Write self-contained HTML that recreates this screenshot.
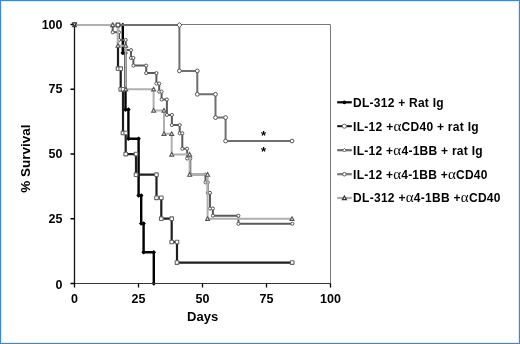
<!DOCTYPE html>
<html><head><meta charset="utf-8"><style>
html,body{margin:0;padding:0;background:#fff;width:520px;height:344px;overflow:hidden}
svg{display:block}
</style></head><body>
<svg width="520" height="344" viewBox="0 0 520 344"><defs><filter id="g" filterUnits="userSpaceOnUse" x="0" y="0" width="520" height="344"><feColorMatrix type="saturate" values="0"/></filter></defs><rect x="0" y="0" width="520" height="344" fill="#fff"/><g filter="url(#g)"><path d="M74.5 24.5H330.5V283.5" fill="none" stroke="#7a7a7a" stroke-width="1"/><polyline points="122.8,25 122.8,53 125.5,53 125.5,109.6 128.4,109.6 128.4,138.8 138.6,138.8 138.6,195.5 141.2,195.5 141.2,223.5 143.6,223.5 143.6,252.2 153.8,252.2 153.8,283.5" fill="none" stroke="#000" stroke-width="2.4" stroke-linejoin="miter"/><path d="M122.8 22.7L125.1 25L122.8 27.3L120.5 25Z" fill="#000"/><path d="M122.8 50.7L125.1 53L122.8 55.3L120.5 53Z" fill="#000"/><path d="M125.5 50.7L127.8 53L125.5 55.3L123.2 53Z" fill="#000"/><path d="M125.5 107.3L127.8 109.6L125.5 111.9L123.2 109.6Z" fill="#000"/><path d="M128.4 107.3L130.7 109.6L128.4 111.9L126.1 109.6Z" fill="#000"/><path d="M128.4 136.5L130.7 138.8L128.4 141.1L126.1 138.8Z" fill="#000"/><path d="M138.6 136.5L140.9 138.8L138.6 141.1L136.3 138.8Z" fill="#000"/><path d="M138.6 193.2L140.9 195.5L138.6 197.8L136.3 195.5Z" fill="#000"/><path d="M141.2 193.2L143.5 195.5L141.2 197.8L138.9 195.5Z" fill="#000"/><path d="M141.2 221.2L143.5 223.5L141.2 225.8L138.9 223.5Z" fill="#000"/><path d="M143.6 221.2L145.9 223.5L143.6 225.8L141.3 223.5Z" fill="#000"/><path d="M143.6 249.9L145.9 252.2L143.6 254.5L141.3 252.2Z" fill="#000"/><path d="M153.8 249.9L156.1 252.2L153.8 254.5L151.5 252.2Z" fill="#000"/><path d="M153.8 281.2L156.1 283.5L153.8 285.8L151.5 283.5Z" fill="#000"/><polyline points="118,25 118,68.7 120.7,68.7 120.7,89.3 123,89.3 123,133 125.7,133 125.7,154.1 136,154.1 136,174.7 156.5,174.7 156.5,197.8 161.3,197.8 161.3,218.7 171.7,218.7 171.7,242 177,242 177,262.6 292.2,262.6" fill="none" stroke="#1e1e1e" stroke-width="2.2"/><rect x="116.2" y="66.9" width="3.6" height="3.6" rx="0.4" fill="#fff" stroke="#666" stroke-width="1.1"/><rect x="118.9" y="66.9" width="3.6" height="3.6" rx="0.4" fill="#fff" stroke="#666" stroke-width="1.1"/><rect x="118.9" y="87.5" width="3.6" height="3.6" rx="0.4" fill="#fff" stroke="#666" stroke-width="1.1"/><rect x="121.2" y="87.5" width="3.6" height="3.6" rx="0.4" fill="#fff" stroke="#666" stroke-width="1.1"/><rect x="121.2" y="131.2" width="3.6" height="3.6" rx="0.4" fill="#fff" stroke="#666" stroke-width="1.1"/><rect x="123.9" y="131.2" width="3.6" height="3.6" rx="0.4" fill="#fff" stroke="#666" stroke-width="1.1"/><rect x="123.9" y="152.3" width="3.6" height="3.6" rx="0.4" fill="#fff" stroke="#666" stroke-width="1.1"/><rect x="134.2" y="152.3" width="3.6" height="3.6" rx="0.4" fill="#fff" stroke="#666" stroke-width="1.1"/><rect x="134.2" y="172.9" width="3.6" height="3.6" rx="0.4" fill="#fff" stroke="#666" stroke-width="1.1"/><rect x="154.7" y="172.9" width="3.6" height="3.6" rx="0.4" fill="#fff" stroke="#666" stroke-width="1.1"/><rect x="154.7" y="196.0" width="3.6" height="3.6" rx="0.4" fill="#fff" stroke="#666" stroke-width="1.1"/><rect x="159.5" y="196.0" width="3.6" height="3.6" rx="0.4" fill="#fff" stroke="#666" stroke-width="1.1"/><rect x="159.5" y="216.9" width="3.6" height="3.6" rx="0.4" fill="#fff" stroke="#666" stroke-width="1.1"/><rect x="169.9" y="216.9" width="3.6" height="3.6" rx="0.4" fill="#fff" stroke="#666" stroke-width="1.1"/><rect x="169.9" y="240.2" width="3.6" height="3.6" rx="0.4" fill="#fff" stroke="#666" stroke-width="1.1"/><rect x="175.2" y="240.2" width="3.6" height="3.6" rx="0.4" fill="#fff" stroke="#666" stroke-width="1.1"/><rect x="175.2" y="260.8" width="3.6" height="3.6" rx="0.4" fill="#fff" stroke="#666" stroke-width="1.1"/><rect x="290.4" y="260.8" width="3.6" height="3.6" rx="0.4" fill="#fff" stroke="#666" stroke-width="1.1"/><polyline points="118,25 179.4,25 179.4,70.9 197.3,70.9 197.3,94.3 215.5,94.3 215.5,117.6 225.6,117.6 225.6,141 292,141" fill="none" stroke="#6f6f6f" stroke-width="2"/><path d="M179.4 22.5L181.9 25L179.4 27.5L176.9 25Z" fill="#fff" stroke="#555" stroke-width="1"/><circle cx="179.4" cy="70.9" r="1.9" fill="#fff" stroke="#555" stroke-width="1"/><circle cx="197.3" cy="70.9" r="1.9" fill="#fff" stroke="#555" stroke-width="1"/><circle cx="197.3" cy="94.3" r="1.9" fill="#fff" stroke="#555" stroke-width="1"/><circle cx="215.5" cy="94.3" r="1.9" fill="#fff" stroke="#555" stroke-width="1"/><circle cx="215.5" cy="117.6" r="1.9" fill="#fff" stroke="#555" stroke-width="1"/><circle cx="225.6" cy="117.6" r="1.9" fill="#fff" stroke="#555" stroke-width="1"/><circle cx="225.6" cy="141" r="1.9" fill="#fff" stroke="#555" stroke-width="1"/><circle cx="292" cy="141" r="1.9" fill="#fff" stroke="#555" stroke-width="1"/><polyline points="112.7,25 112.7,32.3 119,32.3 119,39.9 125.7,39.9 125.7,50.1 131,50.1 131,57.9 133.4,57.9 133.4,65.6 146.2,65.6 146.2,73.1 156.4,73.1 156.4,83.6 159.2,83.6 159.2,91.6 161.6,91.6 161.6,99.5 166.9,99.5 166.9,114.9 171.9,114.9 171.9,125.1 179.7,125.1 179.7,133.3 182.3,133.3 182.3,148.7 187.1,148.7 187.1,158.5 190.3,158.5 190.3,174.6 205.5,174.6 205.5,182.4 207.8,182.4 207.8,192.9 210,192.9 210,208.5 212.9,208.5 212.9,215.7 238.4,215.7 238.4,223.8 292.4,223.8" fill="none" stroke="#5a5a5a" stroke-width="2"/><circle cx="112.7" cy="25" r="1.55" fill="#fff" stroke="#555" stroke-width="1"/><circle cx="112.7" cy="32.3" r="1.55" fill="#fff" stroke="#555" stroke-width="1"/><circle cx="119" cy="32.3" r="1.55" fill="#fff" stroke="#555" stroke-width="1"/><circle cx="119" cy="39.9" r="1.55" fill="#fff" stroke="#555" stroke-width="1"/><circle cx="125.7" cy="39.9" r="1.55" fill="#fff" stroke="#555" stroke-width="1"/><circle cx="125.7" cy="50.1" r="1.55" fill="#fff" stroke="#555" stroke-width="1"/><circle cx="131" cy="50.1" r="1.55" fill="#fff" stroke="#555" stroke-width="1"/><circle cx="131" cy="57.9" r="1.55" fill="#fff" stroke="#555" stroke-width="1"/><circle cx="133.4" cy="57.9" r="1.55" fill="#fff" stroke="#555" stroke-width="1"/><circle cx="133.4" cy="65.6" r="1.55" fill="#fff" stroke="#555" stroke-width="1"/><circle cx="146.2" cy="65.6" r="1.55" fill="#fff" stroke="#555" stroke-width="1"/><circle cx="146.2" cy="73.1" r="1.55" fill="#fff" stroke="#555" stroke-width="1"/><circle cx="156.4" cy="73.1" r="1.55" fill="#fff" stroke="#555" stroke-width="1"/><circle cx="156.4" cy="83.6" r="1.55" fill="#fff" stroke="#555" stroke-width="1"/><circle cx="159.2" cy="83.6" r="1.55" fill="#fff" stroke="#555" stroke-width="1"/><circle cx="159.2" cy="91.6" r="1.55" fill="#fff" stroke="#555" stroke-width="1"/><circle cx="161.6" cy="91.6" r="1.55" fill="#fff" stroke="#555" stroke-width="1"/><circle cx="161.6" cy="99.5" r="1.55" fill="#fff" stroke="#555" stroke-width="1"/><circle cx="166.9" cy="99.5" r="1.55" fill="#fff" stroke="#555" stroke-width="1"/><circle cx="166.9" cy="114.9" r="1.55" fill="#fff" stroke="#555" stroke-width="1"/><circle cx="171.9" cy="114.9" r="1.55" fill="#fff" stroke="#555" stroke-width="1"/><circle cx="171.9" cy="125.1" r="1.55" fill="#fff" stroke="#555" stroke-width="1"/><circle cx="179.7" cy="125.1" r="1.55" fill="#fff" stroke="#555" stroke-width="1"/><circle cx="179.7" cy="133.3" r="1.55" fill="#fff" stroke="#555" stroke-width="1"/><circle cx="182.3" cy="133.3" r="1.55" fill="#fff" stroke="#555" stroke-width="1"/><circle cx="182.3" cy="148.7" r="1.55" fill="#fff" stroke="#555" stroke-width="1"/><circle cx="187.1" cy="148.7" r="1.55" fill="#fff" stroke="#555" stroke-width="1"/><circle cx="187.1" cy="158.5" r="1.55" fill="#fff" stroke="#555" stroke-width="1"/><circle cx="190.3" cy="158.5" r="1.55" fill="#fff" stroke="#555" stroke-width="1"/><circle cx="190.3" cy="174.6" r="1.55" fill="#fff" stroke="#555" stroke-width="1"/><circle cx="205.5" cy="174.6" r="1.55" fill="#fff" stroke="#555" stroke-width="1"/><circle cx="205.5" cy="182.4" r="1.55" fill="#fff" stroke="#555" stroke-width="1"/><circle cx="207.8" cy="182.4" r="1.55" fill="#fff" stroke="#555" stroke-width="1"/><circle cx="207.8" cy="192.9" r="1.55" fill="#fff" stroke="#555" stroke-width="1"/><circle cx="210" cy="192.9" r="1.55" fill="#fff" stroke="#555" stroke-width="1"/><circle cx="210" cy="208.5" r="1.55" fill="#fff" stroke="#555" stroke-width="1"/><circle cx="212.9" cy="208.5" r="1.55" fill="#fff" stroke="#555" stroke-width="1"/><circle cx="212.9" cy="215.7" r="1.55" fill="#fff" stroke="#555" stroke-width="1"/><circle cx="238.4" cy="215.7" r="1.55" fill="#fff" stroke="#555" stroke-width="1"/><circle cx="238.4" cy="223.8" r="1.55" fill="#fff" stroke="#555" stroke-width="1"/><circle cx="292.4" cy="223.8" r="1.55" fill="#fff" stroke="#555" stroke-width="1"/><polyline points="74.5,25 112.7,25 118,25 118,45.7 125.7,45.7 125.7,89.3 153.6,89.3 153.6,110.5 164,110.5 164,133.8 171.7,133.8 171.7,154.5 189.6,154.5 189.6,174.6 207.6,174.6 207.6,218.8 292,218.8" fill="none" stroke="#b0b0b0" stroke-width="2"/><path d="M74.5 23.0L76.5 26.6L72.5 26.6Z" fill="#fff" stroke="#555" stroke-width="1.1"/><path d="M112.7 23.0L114.7 26.6L110.7 26.6Z" fill="#fff" stroke="#555" stroke-width="1.1"/><path d="M118 43.7L120.0 47.3L116.0 47.3Z" fill="#fff" stroke="#555" stroke-width="1.1"/><path d="M125.7 43.7L127.7 47.3L123.7 47.3Z" fill="#fff" stroke="#555" stroke-width="1.1"/><path d="M125.7 87.3L127.7 90.9L123.7 90.9Z" fill="#fff" stroke="#555" stroke-width="1.1"/><path d="M153.6 87.3L155.6 90.9L151.6 90.9Z" fill="#fff" stroke="#555" stroke-width="1.1"/><path d="M153.6 108.5L155.6 112.1L151.6 112.1Z" fill="#fff" stroke="#555" stroke-width="1.1"/><path d="M164 108.5L166.0 112.1L162.0 112.1Z" fill="#fff" stroke="#555" stroke-width="1.1"/><path d="M164 131.8L166.0 135.4L162.0 135.4Z" fill="#fff" stroke="#555" stroke-width="1.1"/><path d="M171.7 131.8L173.7 135.4L169.7 135.4Z" fill="#fff" stroke="#555" stroke-width="1.1"/><path d="M171.7 152.5L173.7 156.1L169.7 156.1Z" fill="#fff" stroke="#555" stroke-width="1.1"/><path d="M189.6 152.5L191.6 156.1L187.6 156.1Z" fill="#fff" stroke="#555" stroke-width="1.1"/><path d="M189.6 172.6L191.6 176.2L187.6 176.2Z" fill="#fff" stroke="#555" stroke-width="1.1"/><path d="M207.6 172.6L209.6 176.2L205.6 176.2Z" fill="#fff" stroke="#555" stroke-width="1.1"/><path d="M207.6 216.8L209.6 220.4L205.6 220.4Z" fill="#fff" stroke="#555" stroke-width="1.1"/><path d="M292 216.8L294.0 220.4L290.0 220.4Z" fill="#fff" stroke="#555" stroke-width="1.1"/><rect x="116.1" y="23.1" width="3.8" height="3.8" rx="0.4" fill="#fff" stroke="#444" stroke-width="1.2"/><path d="M74 283.5H330.5" fill="none" stroke="#3a3a3a" stroke-width="1.1"/><path d="M74.5 24V284" fill="none" stroke="#111" stroke-width="1.3"/><path d="M70.5 24.5H74.5M70.5 89.25H74.5M70.5 154H74.5M70.5 218.75H74.5M70.5 283.5H74.5M74.5 283.5V287.5M138.5 283.5V287.5M202.5 283.5V287.5M266.5 283.5V287.5M330.5 283.5V287.5" stroke="#000" stroke-width="1.3"/><path d="M72.4 22.9H76.6L74.5 26.4Z" fill="#fff" stroke="#333" stroke-width="1.2" stroke-linejoin="round"/><text x="62.5" y="28.9" text-anchor="end" font-family="Liberation Sans" font-weight="bold" font-size="12.5">100</text><text x="62.5" y="93.4" text-anchor="end" font-family="Liberation Sans" font-weight="bold" font-size="12.5">75</text><text x="62.5" y="158.0" text-anchor="end" font-family="Liberation Sans" font-weight="bold" font-size="12.5">50</text><text x="62.5" y="223.2" text-anchor="end" font-family="Liberation Sans" font-weight="bold" font-size="12.5">25</text><text x="62.5" y="288.7" text-anchor="end" font-family="Liberation Sans" font-weight="bold" font-size="12.5">0</text><text x="74.5" y="303.2" text-anchor="middle" font-family="Liberation Sans" font-weight="bold" font-size="12.5">0</text><text x="138.5" y="303.2" text-anchor="middle" font-family="Liberation Sans" font-weight="bold" font-size="12.5">25</text><text x="202.5" y="303.2" text-anchor="middle" font-family="Liberation Sans" font-weight="bold" font-size="12.5">50</text><text x="266.5" y="303.2" text-anchor="middle" font-family="Liberation Sans" font-weight="bold" font-size="12.5">75</text><text x="330.5" y="303.2" text-anchor="middle" font-family="Liberation Sans" font-weight="bold" font-size="12.5">100</text><text x="202.6" y="320.5" text-anchor="middle" font-family="Liberation Sans" font-weight="bold" font-size="13">Days</text><text transform="translate(30.3 158.7) rotate(-90)" x="0" y="0" text-anchor="middle" font-family="Liberation Sans" font-weight="bold" font-size="13.5">% Survival</text><text x="263.6" y="140.3" text-anchor="middle" font-family="Liberation Sans" font-weight="bold" font-size="13">*</text><text x="263.6" y="155.6" text-anchor="middle" font-family="Liberation Sans" font-weight="bold" font-size="13">*</text><path d="M337.2 102.3H351.8" stroke="#000" stroke-width="2.2"/><circle cx="344.4" cy="102.3" r="1.9" fill="#000"/><text x="353.1" y="106.7" font-family="Liberation Sans" font-weight="bold" font-size="12" textLength="90.5" lengthAdjust="spacing">DL-312 + Rat Ig</text><path d="M337.2 126.2H351.8" stroke="#111" stroke-width="2"/><circle cx="344.4" cy="126.2" r="2.1" fill="#fff" stroke="#666" stroke-width="1"/><text x="353.1" y="130.6" font-family="Liberation Sans" font-weight="bold" font-size="12" textLength="125.5" lengthAdjust="spacing">IL-12 +<tspan font-family="Liberation Serif" font-weight="normal" font-size="15">α</tspan>CD40 + rat Ig</text><path d="M337.2 150.2H351.8" stroke="#6a6a6a" stroke-width="2.2"/><path d="M344.4 148.4L346.2 150.2L344.4 152.0L342.6 150.2Z" fill="#fff" stroke="#555" stroke-width="1"/><text x="353.1" y="154.6" font-family="Liberation Sans" font-weight="bold" font-size="12" textLength="129.5" lengthAdjust="spacing">IL-12 +<tspan font-family="Liberation Serif" font-weight="normal" font-size="15">α</tspan>4-1BB + rat Ig</text><path d="M337.2 174.2H351.8" stroke="#777" stroke-width="2.2"/><circle cx="344.4" cy="174.2" r="1.8" fill="#fff" stroke="#555" stroke-width="1"/><text x="353.1" y="178.6" font-family="Liberation Sans" font-weight="bold" font-size="12" textLength="134.3" lengthAdjust="spacing">IL-12 +<tspan font-family="Liberation Serif" font-weight="normal" font-size="15">α</tspan>4-1BB +<tspan font-family="Liberation Serif" font-weight="normal" font-size="15">α</tspan>CD40</text><path d="M337.2 198.0H351.8" stroke="#aaaaaa" stroke-width="2.2"/><path d="M344.4 196.0L346.4 199.6L342.4 199.6Z" fill="#fff" stroke="#333" stroke-width="1.2"/><text x="353.1" y="202.4" font-family="Liberation Sans" font-weight="bold" font-size="12" textLength="147.4" lengthAdjust="spacing">DL-312 +<tspan font-family="Liberation Serif" font-weight="normal" font-size="15">α</tspan>4-1BB +<tspan font-family="Liberation Serif" font-weight="normal" font-size="15">α</tspan>CD40</text></g><rect x="1.5" y="1.5" width="517" height="341" fill="none" stroke="#d8ecfa" stroke-width="1"/><rect x="0.5" y="0.5" width="519" height="343" fill="none" stroke="#4a86c6" stroke-width="1"/></svg>
</body></html>
